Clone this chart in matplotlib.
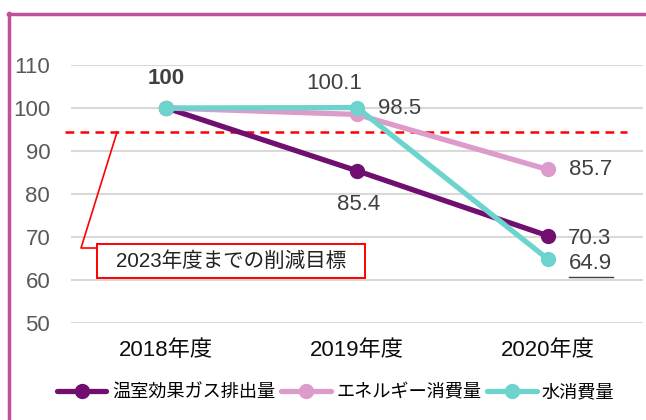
import matplotlib.pyplot as plt
from matplotlib.lines import Line2D
from matplotlib.patches import Rectangle

plt.rcParams['font.family'] = ['Liberation Sans', 'Noto Sans CJK JP']

years = ['2018年度', '2019年度', '2020年度']
ghg = [100, 85.4, 70.3]
energy = [100, 98.5, 85.7]
water = [100, 100.1, 64.9]
target = 94.4
series_names = ['温室効果ガス排出量', 'エネルギー消費量', '水消費量']
colors = ['#700F70', '#DC9BCB', '#6DD4CD']

fig = plt.figure(figsize=(6.46, 4.2), dpi=100)
ax = fig.add_axes([71 / 646, 1 - 323 / 420, 572 / 646, 258 / 420])

x = range(len(years))
for vals, name, c in zip([ghg, energy, water], series_names, colors):
    ax.plot(x, vals, color=c, lw=3.8, marker='o', ms=10, label=name,
            clip_on=False, solid_capstyle='round', zorder=3)

ax.axhline(target, xmin=-0.0105, xmax=0.972, color='#FF0000', lw=1.8,
           ls=(0, (3.5, 2.5)), clip_on=False, zorder=2)

ax.set_xlim(-0.5, 2.5)
ax.set_ylim(50, 110)
ax.set_yticks(range(50, 111, 10))
ax.set_xticks(list(x))
ax.set_xticklabels(years, fontsize=16, color='#0D0D0D')
ax.tick_params(axis='y', labelsize=16, labelcolor='#595959', length=0, pad=15)
ax.tick_params(axis='x', length=0, pad=12)
ax.grid(axis='y', color='#D9D9D9', lw=1.5)
ax.set_axisbelow(True)
for s in ax.spines.values():
    s.set_visible(False)

# data labels
lab = dict(fontsize=16, color='#404040', ha='center', va='center',
           textcoords='offset points')
ax.annotate('100', (0, ghg[0]), xytext=(0, 21), fontweight='bold', **lab)
ax.annotate('100.1', (1, water[1]), xytext=(-16.5, 17), **lab)
ax.annotate('98.5', (1, energy[1]), xytext=(31, 4), **lab)
ax.annotate('85.4', (1, ghg[1]), xytext=(1.5, -24), **lab)
ax.annotate('85.7', (2, energy[2]), xytext=(31, 0), **lab)
ax.annotate('70.3', (2, ghg[2]), xytext=(30, -2), **lab)
ax.annotate('64.9', (2, water[2]), xytext=(31, -3.6), **lab)
ax.plot([2.11, 2.345], [60.6, 60.6], color='#404040', lw=1, clip_on=False)

# target callout
ax.plot([-0.2585, -0.4475, -0.3635], [target, 67.44, 67.44],
        color='#FF0000', lw=1.2, clip_on=False, zorder=2)
ax.add_patch(Rectangle((-0.3635, 60.47), 1.4068, 7.9, fc='white',
                       ec='#FF0000', lw=1.4, clip_on=False, zorder=4))
ax.text(0.34, 64.4, '2023年度までの削減目標', fontsize=14.8, color='#222222',
        ha='center', va='center', zorder=5)

fig.legend(loc='center', bbox_to_anchor=(0.52, 1 - 393 / 420), ncol=3,
           frameon=False, fontsize=13.1, handlelength=2.7, handletextpad=0.3,
           columnspacing=0.35, borderaxespad=0, borderpad=0)

# magenta frame (right and bottom cut off)
fig.add_artist(Line2D([8.5 / 646, 8.5 / 646], [0, 1 - 13 / 420], color='#C0509C',
                      lw=2.5, transform=fig.transFigure))
fig.add_artist(Line2D([7.5 / 646, 1], [1 - 14 / 420, 1 - 14 / 420], color='#C0509C',
                      lw=2.5, transform=fig.transFigure))

fig.savefig('out.png', dpi=100)
